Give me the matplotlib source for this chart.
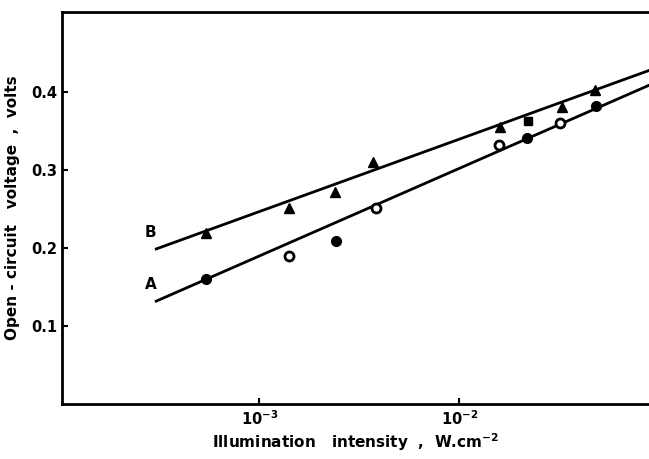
import matplotlib
matplotlib.use("Agg")
import matplotlib.pyplot as plt

# curve B (triangles, plus one square point)
b_tri_x = [5.4e-4, 1.41e-3, 2.4e-3, 3.7e-3, 1.6e-2, 3.27e-2, 4.8e-2]
b_tri_y = [0.22, 0.251, 0.272, 0.311, 0.355, 0.381, 0.403]
b_sq_x = [2.21e-2]
b_sq_y = [0.363]

# curve A (filled and open circles)
a_fill_x = [5.4e-4, 2.43e-3, 2.19e-2, 4.84e-2]
a_fill_y = [0.16, 0.209, 0.341, 0.383]
a_open_x = [1.41e-3, 3.85e-3, 1.58e-2, 3.2e-2]
a_open_y = [0.19, 0.252, 0.332, 0.361]

# fitted lines
fit_x = [3.05e-4, 0.089]
fit_b = [0.199, 0.428]
fit_a = [0.132, 0.409]

plt.rcParams['font.family'] = 'DejaVu Sans'
fig = plt.figure(figsize=(6.49, 4.59), dpi=100)
ax = fig.add_axes([0.0955, 0.1198, 0.9045, 0.854])

ax.plot(fit_x, fit_b, color='black', lw=2.0)
ax.plot(fit_x, fit_a, color='black', lw=2.0)

ax.plot(b_tri_x, b_tri_y, '^', color='black', ms=6.5, ls='none')
ax.plot(b_sq_x, b_sq_y, 's', color='black', ms=6, ls='none')
ax.plot(a_fill_x, a_fill_y, 'o', color='black', ms=7, ls='none')
ax.plot(a_open_x, a_open_y, 'o', mfc='white', mec='black', mew=2.0, ms=6.5, ls='none')

ax.text(2.85e-4, 0.22, 'B', fontsize=11, fontweight='bold', ha='center', va='center')
ax.text(2.85e-4, 0.154, 'A', fontsize=11, fontweight='bold', ha='center', va='center')

ax.set_xscale('log')
ax.set_xlim(1.03e-4, 0.089)
ax.set_ylim(0.0, 0.503)
ax.set_xticks([1e-3, 1e-2])
ax.set_xticklabels([r'$\mathbf{10^{-3}}$', r'$\mathbf{10^{-2}}$'])
ax.minorticks_off()
ax.set_yticks([0.1, 0.2, 0.3, 0.4])
ax.set_yticklabels(['0.1', '0.2', '0.3', '0.4'])
ax.tick_params(direction='in', length=4, width=1.5, labelsize=10.5)
for lab in ax.get_yticklabels():
    lab.set_fontweight('bold')

ax.spines['right'].set_visible(False)
for s in ['left', 'bottom', 'top']:
    ax.spines[s].set_linewidth(2.0)

ax.set_xlabel(r'Illumination   intensity  ,  W.cm$^{\mathbf{-2}}$', fontsize=11,
              fontweight='bold', labelpad=3)
ax.set_ylabel('Open - circuit   voltage  ,  volts', fontsize=11, fontweight='bold',
              labelpad=8)

fig.savefig('out.png', dpi=100)
